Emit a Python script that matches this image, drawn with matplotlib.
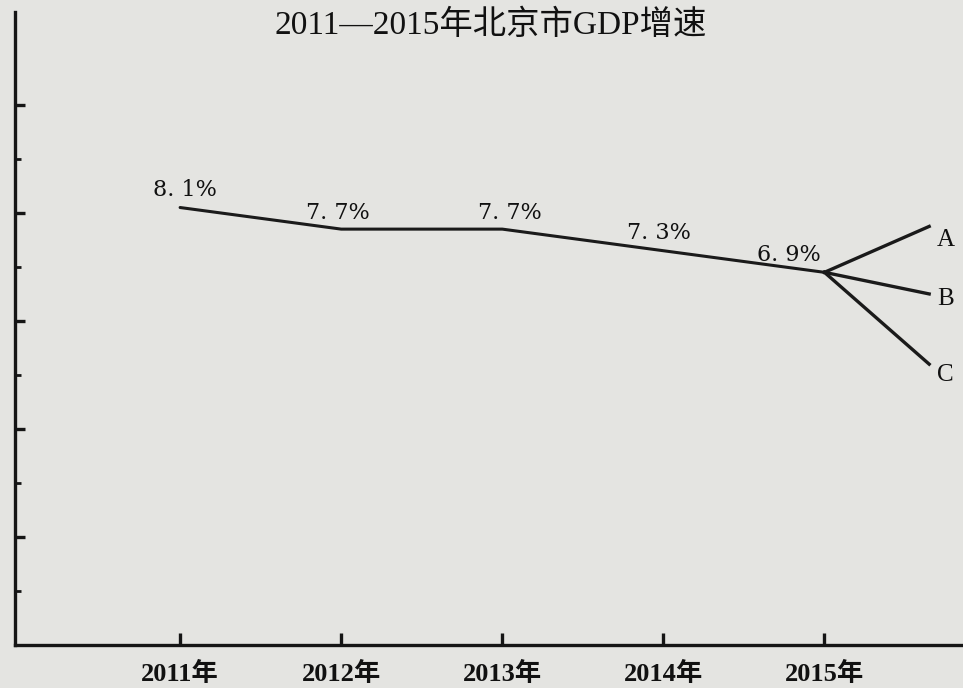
import matplotlib
matplotlib.use('Agg')
import matplotlib.pyplot as plt
import numpy as np

# data
years = [2011, 2012, 2013, 2014, 2015]
year_labels = ['2011年', '2012年', '2013年', '2014年', '2015年']
growth = [8.1, 7.7, 7.7, 7.3, 6.9]
growth_labels = ['8. 1%', '7. 7%', '7. 7%', '7. 3%', '6. 9%']
branch_names = ['A', 'B', 'C']
branch_x = 2015.65
branch_values = [7.75, 6.5, 5.2]
y_major = [2, 4, 6, 8, 10]
y_minor = [1, 3, 5, 7, 9]

bg = '#e4e4e1'
fig = plt.figure(figsize=(9.63, 6.88), dpi=100, facecolor=bg)
ax = fig.add_axes([15 / 963, 43 / 688, 1 - 15 / 963, (645 - 12) / 688])
ax.set_facecolor(bg)

ax.plot(years, growth, color='#1a1a1a', linewidth=2.2, solid_capstyle='round')
for name, v in zip(branch_names, branch_values):
    ax.plot([years[-1], branch_x], [growth[-1], v], color='#1a1a1a', linewidth=2.4)

# value labels
label_off = [(0.03, 0.32), (-0.02, 0.3), (0.05, 0.3), (-0.03, 0.33), (-0.22, 0.33)]
for x, y, t, (dx, dy) in zip(years, growth, growth_labels, label_off):
    ax.text(x + dx, y + dy, t, ha='center', va='center', fontsize=16,
            family='DejaVu Serif', color='#111111')

branch_dy = [-0.25, -0.1, -0.2]
for name, v, dy in zip(branch_names, branch_values, branch_dy):
    ax.text(branch_x + 0.1, v + dy, name, ha='center', va='center', fontsize=18,
            family='Liberation Serif', color='#111111')

ax.set_xlim(2009.975, 2015.86)
ax.set_ylim(0, 11.72)

ax.spines['top'].set_visible(False)
ax.spines['right'].set_visible(False)
for s in ('left', 'bottom'):
    ax.spines[s].set_linewidth(2.4)
    ax.spines[s].set_color('#151515')

ax.set_xticks(years)
ax.set_xticklabels(year_labels, family=['Liberation Serif', 'Noto Sans CJK SC'],
                   fontsize=19, fontweight='semibold', color='#111111')
ax.tick_params(axis='x', direction='in', length=9, width=2.4, pad=12, color='#151515')

ax.set_yticks(y_major)
ax.set_yticks(y_minor, minor=True)
ax.set_yticklabels([])
ax.tick_params(axis='y', which='major', direction='in', length=7, width=2.4, color='#151515')
ax.tick_params(axis='y', which='minor', direction='in', length=4, width=2.0, color='#151515')

fig.text(0.51, 0.963, '2011—2015年北京市GDP增速', ha='center', va='center',
         fontsize=24, family=['Liberation Serif', 'Noto Sans CJK SC'], color='#111111')

fig.savefig('out.png', dpi=100, facecolor=bg)
